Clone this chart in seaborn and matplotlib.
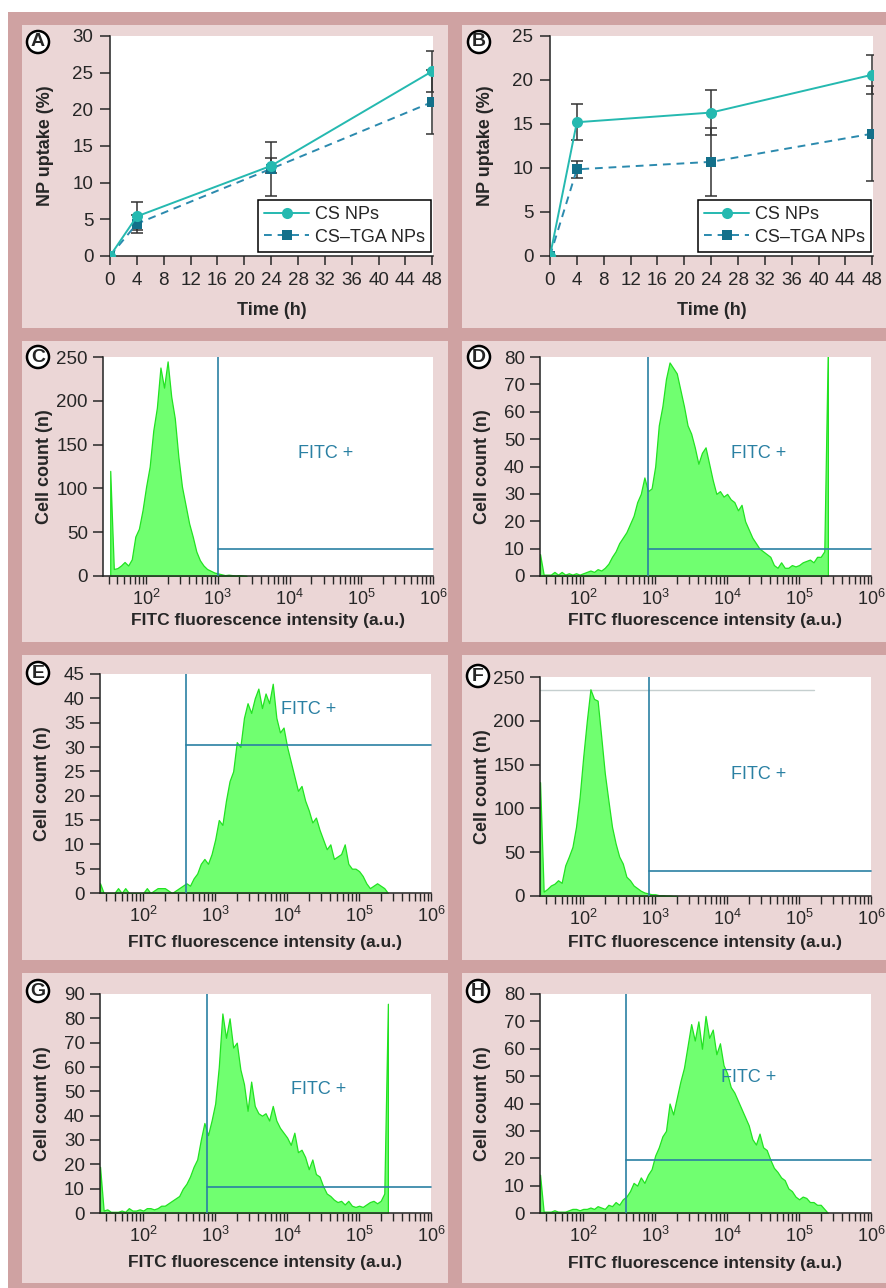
import numpy as np
import pandas as pd
import matplotlib
matplotlib.use("Agg")
import matplotlib.pyplot as plt
import matplotlib.patches as mpatches
from matplotlib import ticker
import seaborn as sns

# ---------------- data ----------------
time_h = [0, 4, 24, 48]

# panel A
a_cs = [0, 5.4, 12.3, 25.2]
a_cs_err = [0, 1.9, 1.0, 2.8]
a_tga = [0, 4.4, 11.9, 21.0]
a_tga_err = [0, 1.2, 3.7, 4.4]

# panel B
b_cs = [0, 15.2, 16.3, 20.6]
b_cs_err = [0, 2.05, 2.6, 2.2]
b_tga = [0, 9.85, 10.7, 13.9]
b_tga_err = [0, 0.95, 3.9, 5.4]

# flow cytometry histograms: counts per channel, channels every 0.05 decade
c_start, c_counts = 1.50, [
    120, 8, 9, 12, 16, 12, 19, 45, 54, 75,
    102, 125, 166, 192, 238, 215, 245, 205, 180, 136,
    102, 81, 60, 45, 28, 18, 12, 8, 6, 4,
    3, 2, 1, 1.5, 1, 0.5, 1, 0.5, 0]

d_start, d_counts = 1.40, [
    8, 0.5, 0.5, 0.5, 1.5, 0.5, 1.5, 0.5, 1, 0.5,
    1, 0.5, 1, 1.5, 2, 1.5, 2.5, 2, 3, 4.5,
    7, 9, 12, 14, 16, 19, 22, 27, 30, 36,
    31, 32, 40, 55, 62, 72, 78, 76, 74, 68,
    62, 55, 52, 47, 41, 45, 47, 41, 35, 30,
    31, 29, 30, 28, 27, 24, 26, 20, 17, 14,
    12, 10, 9, 8, 7, 4, 3, 5, 3, 3,
    4, 3.5, 4, 5, 5.5, 6, 5, 7, 7, 9,
    85]

e_start, e_counts = 1.40, [
    2, 0, 0, 0, 0, 1, 0, 1, 0, 0,
    0, 0, 0, 1, 0, 0.5, 1, 1, 1, 0.5,
    0, 0.5, 1, 1.5, 2, 1.5, 3, 4, 6, 7,
    6, 8, 11, 15, 14, 19, 23, 25, 31, 30,
    36, 39, 37, 40, 42, 38, 41, 39, 43, 36,
    33, 34, 30, 27, 24, 21, 22, 19, 17, 14.5,
    15.5, 13, 11, 9, 10, 7, 7.5, 8, 10, 6,
    5, 5, 4.5, 3.5, 2, 1, 1.5, 2, 1.5, 1,
    0]

f_start, f_counts = 1.40, [
    130, 5, 8, 12, 14, 18, 15, 35, 45, 56,
    79, 113, 159, 200, 236, 225, 223, 182, 140, 109,
    79, 60, 45, 37, 22, 18, 12, 9, 6, 4,
    3, 2, 2, 1, 1, 0.5, 0.5, 0, 0]

g_start, g_counts = 1.40, [
    19, 1, 1.5, 0.5, 0.5, 0.5, 1, 0.5, 2, 1,
    1, 1.5, 1, 2, 2, 1.5, 2, 3, 3, 4,
    5, 6, 7, 10, 12, 15, 19, 22, 30, 37,
    32, 38, 45, 60, 82, 72, 80, 68, 70, 59,
    53, 42, 54, 44, 41, 40, 41, 38, 44, 38,
    35, 33, 31, 28, 33, 25, 26, 23, 18, 22,
    16, 15, 11, 8, 7, 5.5, 4.5, 5, 3.5, 5,
    3, 2.5, 3, 2.5, 3.5, 4.5, 5, 4, 5, 8,
    86]

h_start, h_counts = 1.40, [
    14, 0.5, 0.5, 0.5, 1, 0.5, 0.5, 0.5, 1, 1.5,
    1.5, 1, 1.5, 1.5, 2, 1.5, 2.5, 2, 1.5, 3,
    2.5, 4, 3, 5, 6, 8, 11, 10, 13, 11,
    14, 16, 21, 24, 28, 30, 40, 36, 42, 48,
    53, 61, 69, 63, 70, 60, 72, 64, 67, 58,
    62, 54, 51, 46, 44, 41, 38, 35, 32, 27,
    25, 29, 24, 23, 19.5, 16.5, 15, 13, 12, 9,
    8, 6, 5, 6, 5.5, 4, 4, 3, 3, 1.5,
    0]

y_max = {"C": 250, "D": 80, "E": 45, "F": 250, "G": 90, "H": 80}
y_step = {"C": 50, "D": 10, "E": 5, "F": 50, "G": 10, "H": 10}
gate_x = {"C": 10**3.0, "D": 10**2.90, "E": 10**2.59, "F": 10**2.91, "G": 10**2.89, "H": 10**2.60}
gate_y = {"C": 31, "D": 10, "E": 30.5, "F": 28.5, "G": 10.5, "H": 19.2}

# ---------------- style ----------------
sns.set_style("ticks")
plt.rcParams["font.family"] = ["Liberation Sans", "DejaVu Sans"]
plt.rcParams["mathtext.fontset"] = "custom"
plt.rcParams["mathtext.rm"] = "Liberation Sans"
plt.rcParams["mathtext.default"] = "regular"

W, H = 887, 1288
fig = plt.figure(figsize=(W / 100, H / 100), dpi=100)
fig.patch.set_facecolor("white")

dark = "#cfa2a2"
light = "#ebd6d6"
cs_col = "#25b9b0"
tga_line = "#2b8aae"
tga_mark = "#13708a"
gate_col = "#2a80a3"
fill_col = "#70ff70"
edge_col = "#22e222"

# background axes for the panel frames
bg = fig.add_axes([0, 0, 1, 1], zorder=-5)
bg.set_xlim(0, W)
bg.set_ylim(H, 0)
bg.axis("off")


def rect_px(l, t, r, b, color):
    bg.add_patch(mpatches.Rectangle((l, t), r - l, b - t, color=color, lw=0))


def axes_px(l, t, r, b):
    return fig.add_axes([l / W, 1 - b / H, (r - l) / W, (b - t) / H])


rect_px(8, 12, W, H, dark)
for (l, r) in [(22, 448), (462, W)]:
    for (t, b) in [(25, 328), (341, 642), (655, 960), (973, 1283)]:
        rect_px(l, t, r, b, light)


def circ_label(x, y, letter):
    fig.text(x / W, 1 - y / H, letter, ha="center", va="center", fontsize=14,
             fontweight="bold", zorder=10,
             bbox=dict(boxstyle="circle,pad=0.13", fc="white", ec="black", lw=1.8))


def style_axes(ax):
    ax.set_facecolor("white")
    for s in ["top", "right"]:
        ax.spines[s].set_visible(False)
    for s in ["left", "bottom"]:
        ax.spines[s].set_linewidth(1.1)
        ax.spines[s].set_color("#222222")


def uptake_panel(ax, cs, cs_err, tga, tga_err, ymax):
    style_axes(ax)
    ax.errorbar(time_h, cs, yerr=cs_err, fmt="none", ecolor="#333333", elinewidth=1.1,
                capsize=4, capthick=1.1, zorder=2)
    ax.errorbar(time_h, tga, yerr=tga_err, fmt="none", ecolor="#333333", elinewidth=1.1,
                capsize=4, capthick=1.1, zorder=2)
    df = pd.DataFrame({"t": time_h, "cs": cs, "tga": tga})
    sns.lineplot(data=df, x="t", y="tga", ax=ax, color=tga_line, linestyle=(0, (4, 3)),
                 linewidth=1.4, marker="s", markersize=7, markerfacecolor=tga_mark,
                 markeredgewidth=0, label="CS\u2013TGA NPs", zorder=3)
    sns.lineplot(data=df, x="t", y="cs", ax=ax, color=cs_col, linewidth=1.4,
                 marker="o", markersize=8, markeredgewidth=0, label="CS NPs", zorder=4)
    ax.set_xlim(0, 48.1)
    ax.set_ylim(0, ymax)
    ax.set_xticks(range(0, 49, 4))
    ax.set_yticks(range(0, ymax + 1, 5))
    ax.tick_params(axis="y", direction="out", length=7, width=1.1, labelsize=13.5, pad=5)
    ax.tick_params(axis="x", direction="out", length=6.5, width=1.1, labelsize=13.5, pad=5)
    ax.set_xlabel("Time (h)", fontsize=13, fontweight="bold")
    ax.set_ylabel("NP uptake (%)", fontsize=13, fontweight="bold")
    ax.xaxis.set_label_coords(0.5, -0.21)
    ax.yaxis.set_label_coords(-0.174, 0.5)
    h, l = ax.get_legend_handles_labels()
    leg = ax.legend(h[::-1], l[::-1], loc="lower right", bbox_to_anchor=(0.994, 0.018),
                    borderaxespad=0, fontsize=13, frameon=True, fancybox=False,
                    edgecolor="black", framealpha=1, handlelength=2.5, handletextpad=0.3,
                    borderpad=0.35, labelspacing=0.3)
    leg.get_frame().set_linewidth(1.1)


def flow_panel(ax, key, start, counts, fitc_xy, ylab_x, xlab_y):
    style_axes(ax)
    logs = np.round(start + 0.05 * np.arange(len(counts)), 2)
    sns.histplot(x=10 ** logs, weights=counts, log_scale=True, binwidth=0.05,
                 binrange=(logs[0] - 0.025, logs[-1] + 0.025), element="poly", fill=True,
                 color=fill_col, alpha=1, edgecolor=edge_col, linewidth=0.9, ax=ax, zorder=2)
    ax.set_xlim(10 ** 1.4, 10 ** 6.0)
    ax.set_ylim(0, y_max[key])
    ax.set_yticks(range(0, y_max[key] + 1, y_step[key]))
    ax.set_xticks([1e2, 1e3, 1e4, 1e5, 1e6],
                  labels=[r"$10^{2}$", r"$10^{3}$", r"$10^{4}$", r"$10^{5}$", r"$10^{6}$"])
    ax.xaxis.set_minor_locator(ticker.LogLocator(base=10, subs=np.arange(2, 10), numticks=20))
    ax.xaxis.set_minor_formatter(ticker.NullFormatter())
    ax.tick_params(axis="y", direction="out", length=7, width=1.1, labelsize=13.5, pad=4)
    ax.tick_params(axis="x", which="both", direction="out", length=6, width=1.0,
                   labelsize=13, pad=3)
    # gate
    ax.axvline(gate_x[key], color=gate_col, lw=1.2, zorder=3)
    ax.plot([gate_x[key], 10 ** 6.0], [gate_y[key], gate_y[key]], color=gate_col, lw=1.2,
            zorder=3, clip_on=False)
    ax.text(fitc_xy[0], fitc_xy[1], "FITC +", color=gate_col, fontsize=13,
            ha="center", va="center", zorder=4)
    ax.set_xlabel("FITC fluorescence intensity (a.u.)", fontsize=12.5, fontweight="bold")
    ax.set_ylabel("Cell count (n)", fontsize=13, fontweight="bold")
    ax.xaxis.set_label_coords(0.5, xlab_y)
    ax.yaxis.set_label_coords(ylab_x, 0.5)


# ---------------- panels ----------------
ax_a = axes_px(110, 36, 433, 256)
uptake_panel(ax_a, a_cs, a_cs_err, a_tga, a_tga_err, 30)
ax_b = axes_px(550, 36, 873, 256)
uptake_panel(ax_b, b_cs, b_cs_err, b_tga, b_tga_err, 25)

ax_c = axes_px(103, 357, 433, 576)
flow_panel(ax_c, "C", c_start, c_counts, (10 ** 4.5, 140), -0.153, -0.17)
ax_d = axes_px(540, 357, 871, 576)
flow_panel(ax_d, "D", d_start, d_counts, (10 ** 4.44, 44.7), -0.148, -0.17)
ax_e = axes_px(100, 674, 431, 893)
flow_panel(ax_e, "E", e_start, e_counts, (10 ** 4.30, 37.8), -0.148, -0.19)
ax_f = axes_px(540, 677, 871, 896)
flow_panel(ax_f, "F", f_start, f_counts, (10 ** 4.44, 139), -0.148, -0.18)
ax_f.plot([10 ** 1.4, 10 ** 5.21], [235.5, 235.5], color="#c5cfcf", lw=1, zorder=1)
ax_g = axes_px(100, 994, 431, 1213)
flow_panel(ax_g, "G", g_start, g_counts, (10 ** 4.44, 50.6), -0.148, -0.19)
ax_h = axes_px(540, 994, 871, 1213)
flow_panel(ax_h, "H", h_start, h_counts, (10 ** 4.30, 49.6), -0.148, -0.196)

for (x, y, letter) in [(38, 42, "A"), (479, 42, "B"), (38, 357, "C"), (479, 357, "D"),
                       (38, 673, "E"), (478, 676, "F"), (38, 991, "G"), (478, 991, "H")]:
    circ_label(x, y, letter)

fig.savefig("out.png", dpi=100, facecolor=fig.get_facecolor())
